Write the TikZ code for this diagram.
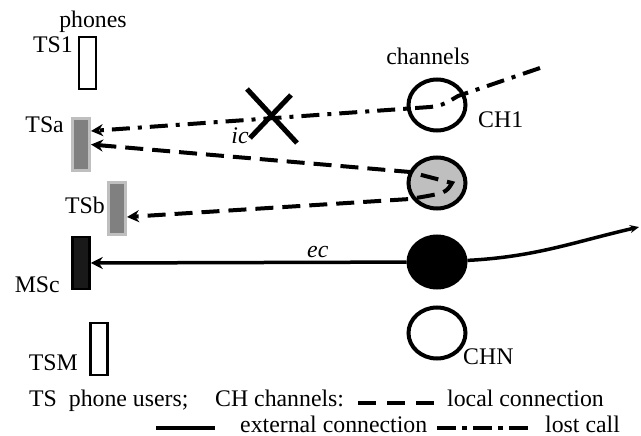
\documentclass[tikz,border=0pt]{standalone}
\usepackage{fontspec}
\setmainfont{Liberation Serif}
\usetikzlibrary{arrows.meta,calc,shapes.geometric}

\newcommand{\lblfont}{\fontsize{23.8pt}{28pt}\selectfont}

\tikzset{
  phone/.style={draw=black, line width=2.5pt, minimum width=17pt, minimum height=52pt, inner sep=0pt},
  busy/.style={phone, draw=black!25, line width=3pt, fill=black!50},
  chan/.style={ellipse, draw=black, line width=4pt, minimum width=57pt, minimum height=51pt, inner sep=0pt},
  lbl/.style={font=\lblfont, inner sep=0pt},
  localcall/.style={line width=4pt, dash pattern=on 18pt off 9pt},
  lostcall/.style={line width=4pt, dash pattern=on 18pt off 8pt on 4pt off 8pt},
  extcall/.style={line width=3.5pt},
}

\begin{document}
\begin{tikzpicture}[x=1pt, y=-1pt, >={Stealth[length=12pt,width=12pt]}]
    \useasboundingbox (0,0) rectangle (641,436);

    % phones
    \node[phone] (TS1) at (87.5,63) {};
    \node[busy] (TSa) at (81,144.5) {};
    \node[busy] (TSb) at (117,208.5) {};
    \node[phone, fill=black!90] (MSc) at (81,263) {};
    \node[phone] (TSM) at (99,349) {};

    \node[lbl, anchor=base] (phones) at (93,28) {phones};
    \node[lbl, anchor=base east] (lTS1) at (73,53) {TS1};
    \node[lbl, anchor=base east] (lTSa) at (64,132) {TSa};
    \node[lbl, anchor=base east] (lTSb) at (105,213) {TSb};
    \node[lbl, anchor=base east] (lMSc) at (60,292) {MSc};
    \node[lbl, anchor=base east] (lTSM) at (78,370) {TSM};

    % channels
    \node[chan] (CH1) at (437,105) {};
    \node[chan, fill=black!25] (CHg) at (437,183) {};
    \node[chan, fill=black] (CHx) at (437,262) {};
    \node[chan] (CHN) at (437,333) {};

    \node[lbl, anchor=base] (channels) at (428,65) {channels};
    \node[lbl, anchor=base west] (lCH1) at (478,128) {CH1};
    \node[lbl, anchor=base west] (lCHN) at (463,364) {CHN};

    % calls
    \coordinate (lostend) at (540,68);
    \draw[lostcall, ->] (lostend) -- (458,96) .. controls (448,102) and (442,106) .. (430,107)
        -- ([yshift=13.5pt]TSa.east);
    \draw[localcall, <->] (TSa.east) -- (410,172) -- (452,183)
        .. controls (446,193) .. (410,199) -- ([yshift=-8.5pt]TSb.east);
    \coordinate (extend) at (639,227);
    \draw[extcall, <-] (MSc.east) -- (CHx);
    \draw[extcall, ->, >={Stealth[length=9pt,width=8pt]}] (CHx) to[out=3, in=193] (extend);

    \node[lbl, font=\lblfont\itshape, anchor=base] (ic) at (240,143) {ic};
    \node[lbl, font=\lblfont\itshape, anchor=base west] (ec) at (307,258) {ec};

    % lost call mark
    \node (lost) at (271,117) {};
    \draw[line width=5pt] ($(lost)+(-24,-28)$) -- ($(lost)+(26,26)$);
    \draw[line width=5pt] ($(lost)+(20,-22)$) -- ($(lost)+(-21,21)$);

    % legend
    \node[lbl, anchor=base west] (key1) at (29,406) {TS\ \ phone users;};
    \node[lbl, anchor=base west] (key2) at (215,406) {CH channels:};
    \draw[line width=3.5pt, dash pattern=on 18pt off 11pt] (358,403) -- (434,403);
    \node[lbl, anchor=base west] (key3) at (447,406) {local connection};
    \draw[extcall] (156,428) -- (215,428);
    \node[lbl, anchor=base west] (key4) at (240,432) {external connection};
    \draw[line width=3.5pt, dash pattern=on 19pt off 6pt on 5pt off 6pt] (437,428) -- (528,428);
    \node[lbl, anchor=base west] (key5) at (545,432) {lost call};
\end{tikzpicture}
\end{document}
